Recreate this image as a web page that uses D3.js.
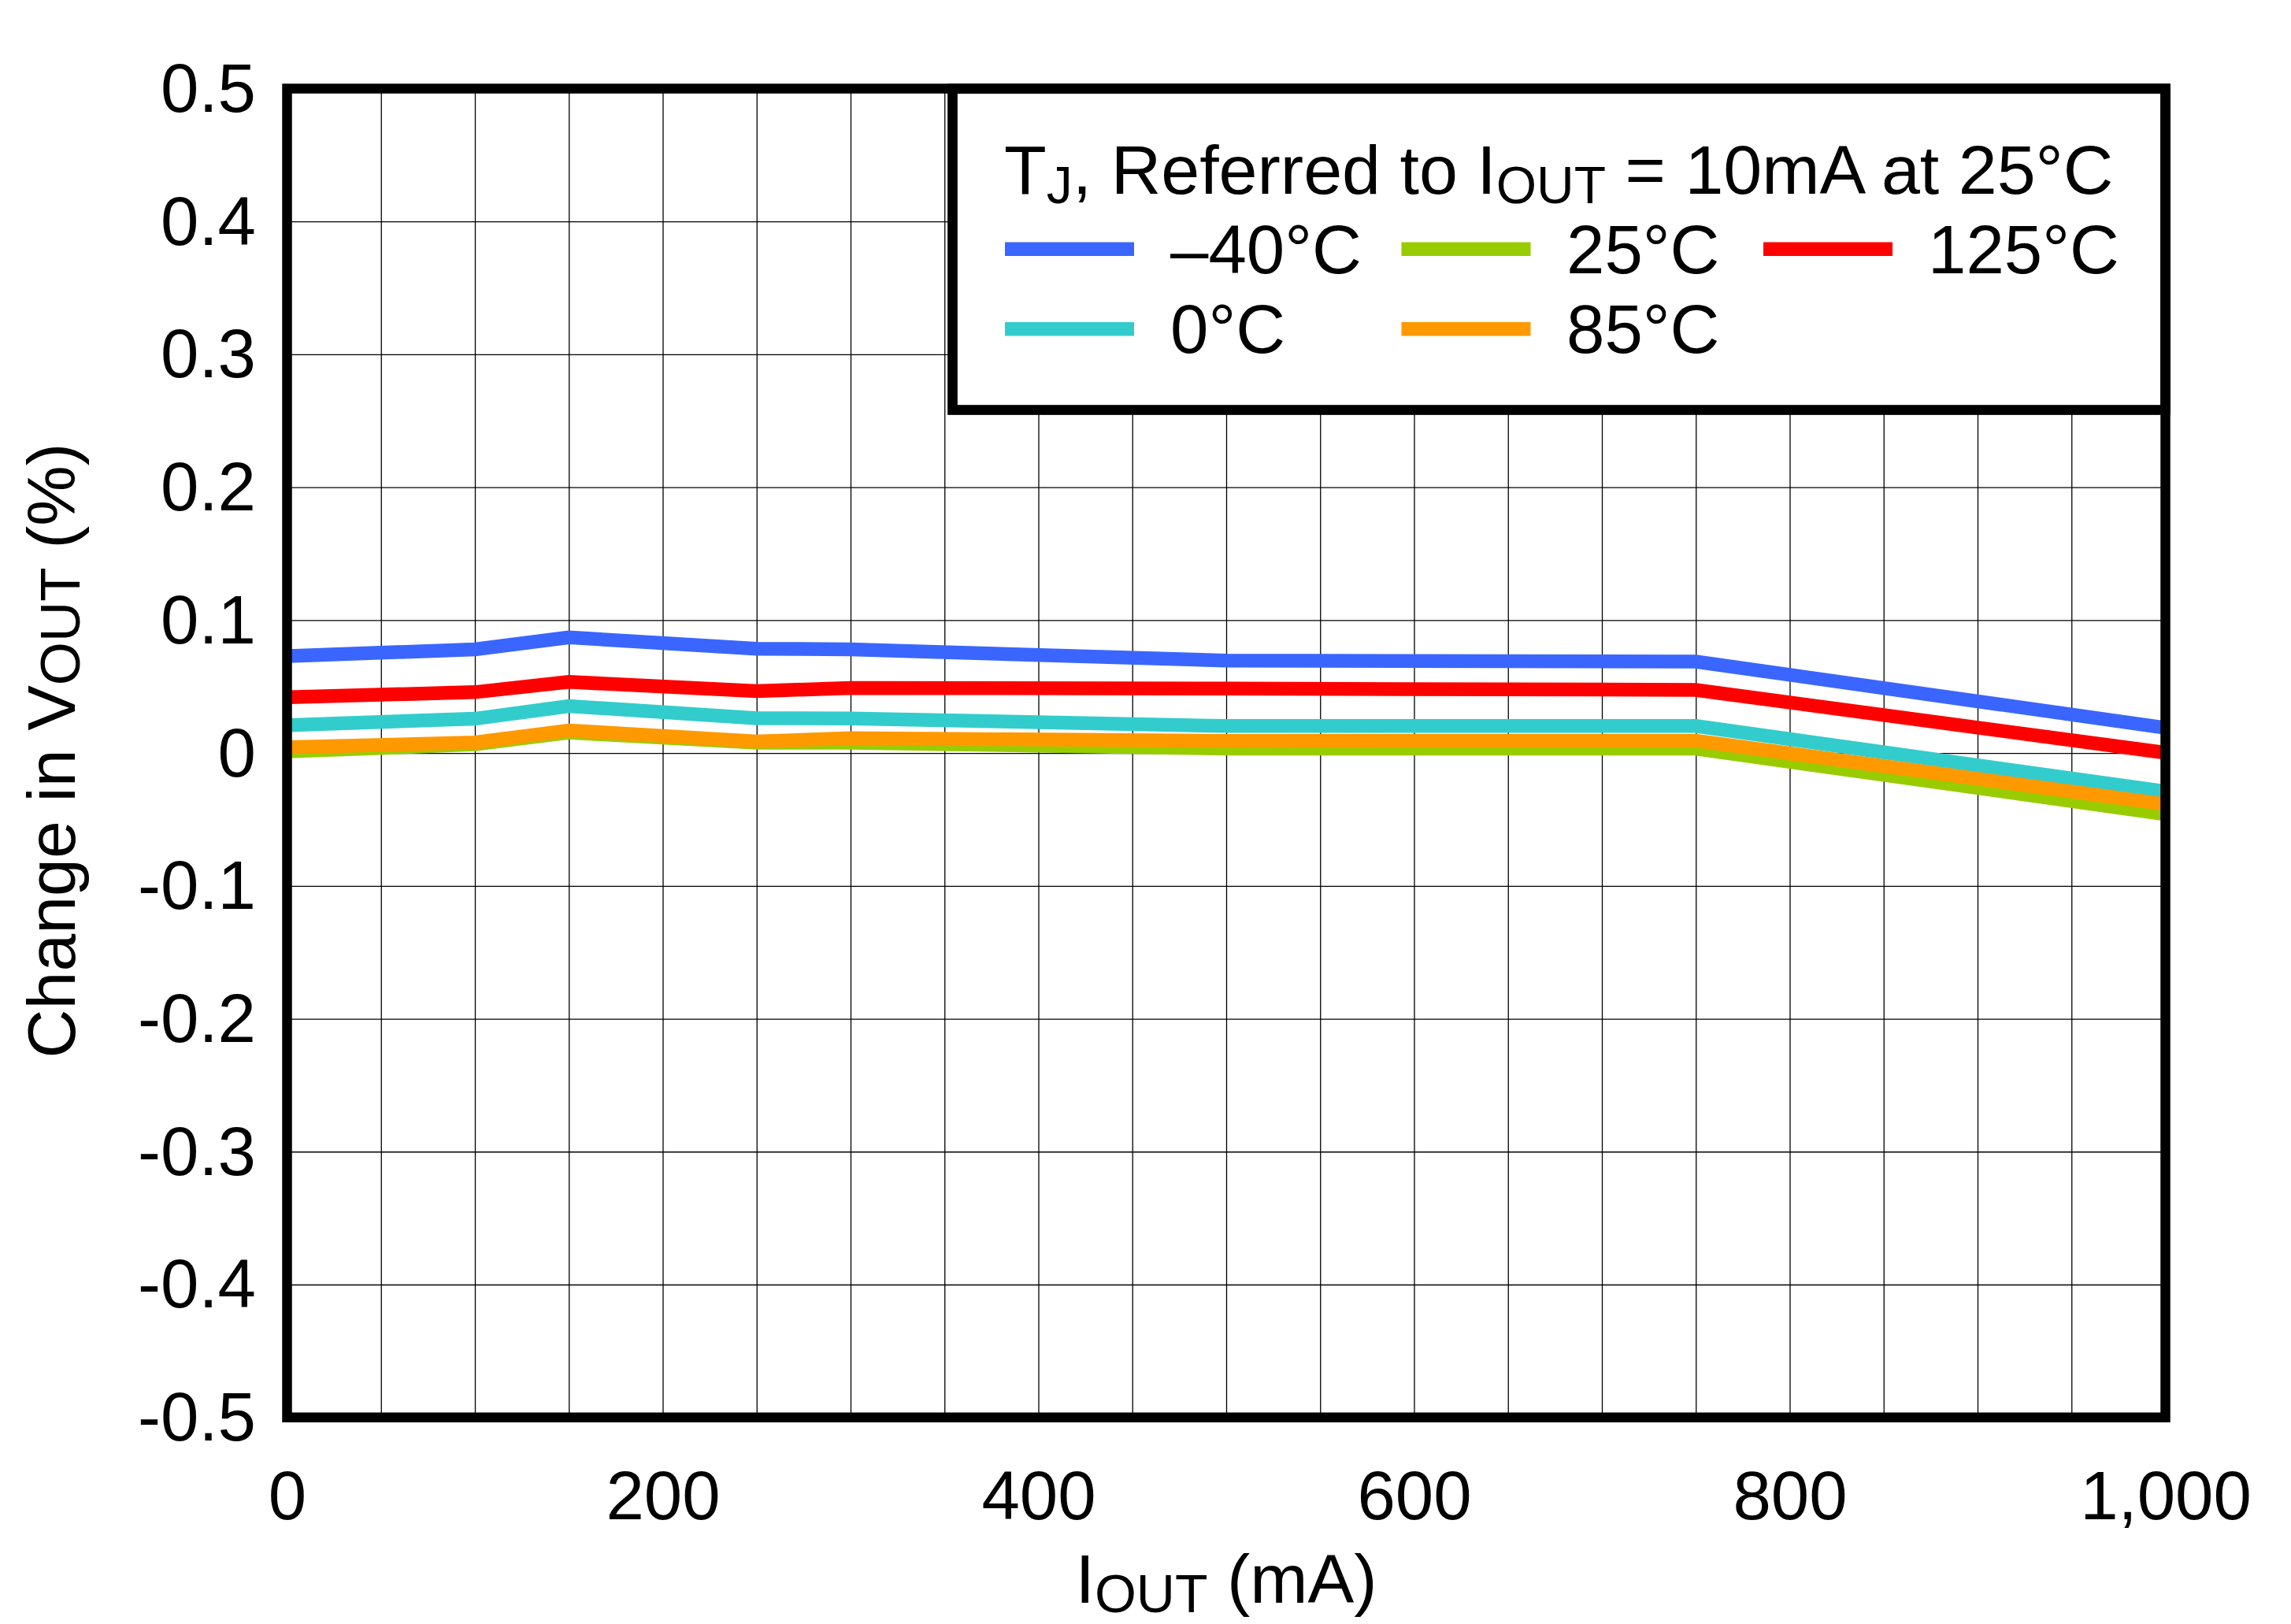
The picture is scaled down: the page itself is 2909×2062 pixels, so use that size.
<!DOCTYPE html>
<html>
<head>
<meta charset="utf-8">
<script src="https://cdn.jsdelivr.net/npm/d3@7"></script>
<style>
  html, body { margin: 0; padding: 0; background: #fff; }
  svg { display: block; }
  text { font-family: "Liberation Sans", Arial, sans-serif; fill: #000; }
</style>
</head>
<body>
<svg id="chart" width="2909" height="2062"></svg>
<script>
// ---- Data ----
const currents = [1, 100, 150, 250, 300, 500, 750, 1000]; // IOUT (mA)
const seriesNames = ["\u201340\u00B0C", "0\u00B0C", "25\u00B0C", "85\u00B0C", "125\u00B0C"];
const seriesColors = ["#3A66FF", "#33CCCC", "#99CC00", "#FF9900", "#FF0000"];
const vM40  = [0.073, 0.078, 0.087, 0.0785, 0.078, 0.0696, 0.0688, 0.019];
const v0    = [0.021, 0.0258, 0.0353, 0.0262, 0.026, 0.0203, 0.0203, -0.029];
const v25   = [0.0012, 0.0065, 0.0154, 0.0077, 0.0078, 0.0033, 0.0033, -0.046];
const v85   = [0.0043, 0.0079, 0.017, 0.0087, 0.0112, 0.0091, 0.0093, -0.0385];
const v125  = [0.042, 0.0458, 0.0535, 0.0466, 0.0489, 0.0485, 0.0475, 0.0002];
const seriesValues = [vM40, v0, v25, v85, v125];
const xTickLabels = [0, 200, 400, 600, 800, 1000];
const yTickLabels = [0.5, 0.4, 0.3, 0.2, 0.1, 0, -0.1, -0.2, -0.3, -0.4, -0.5];
const xGrid = d3.range(50, 1000, 50);
const yGrid = [0.4, 0.3, 0.2, 0.1, 0, -0.1, -0.2, -0.3, -0.4];

// ---- Layout ----
const L = 364.5, R = 2749.5, T = 112.5, B = 1799.7;
const svg = d3.select("#chart");
const x = d3.scaleLinear().domain([0, 1000]).range([L, R]);
const y = d3.scaleLinear().domain([-0.5, 0.5]).range([B, T]);
const FS = 87;

// Grid lines
const gx = svg.append("g").attr("transform", `translate(0,${B})`)
  .call(d3.axisBottom(x).tickValues(xGrid).tickSize(-(B - T)).tickFormat(""));
gx.select(".domain").remove();
gx.selectAll("line").attr("stroke", "#000").attr("stroke-width", 1.3);

const gy = svg.append("g").attr("transform", `translate(${L},0)`)
  .call(d3.axisLeft(y).tickValues(yGrid).tickSize(-(R - L)).tickFormat(""));
gy.select(".domain").remove();
gy.selectAll("line").attr("stroke", "#000").attr("stroke-width", 1.3);

// Tick labels via axes
const ax = svg.append("g").attr("transform", `translate(0,${B})`)
  .call(d3.axisBottom(x).tickValues(xTickLabels).tickSize(0).tickPadding(0).tickFormat(d3.format(",")));
ax.select(".domain").remove();
ax.selectAll("text").attr("font-size", FS).attr("font-family", "Liberation Sans, Arial, sans-serif")
  .attr("dy", null).attr("y", 1929 - B).attr("fill", "#000");

const ay = svg.append("g").attr("transform", `translate(${L},0)`)
  .call(d3.axisLeft(y).tickValues(yTickLabels).tickSize(0).tickPadding(0)
    .tickFormat(d => d === 0 ? "0" : d.toFixed(1)));
ay.select(".domain").remove();
ay.selectAll("text").attr("font-size", FS).attr("font-family", "Liberation Sans, Arial, sans-serif")
  .attr("x", 325 - L).attr("dy", null).attr("y", 29).attr("text-anchor", "end").attr("fill", "#000");

// Series lines
const line = d3.line().x((d, i) => x(currents[i])).y(d => y(d));
seriesValues.forEach((vals, k) => {
  svg.append("path").datum(vals).attr("d", line)
    .attr("fill", "none").attr("stroke", seriesColors[k])
    .attr("stroke-width", 17.5).attr("stroke-linejoin", "miter").attr("stroke-linecap", "butt");
});

// Legend
svg.append("rect").attr("x", 1209.5).attr("y", T).attr("width", R - 1209.5).attr("height", 520.5 - T)
  .attr("fill", "#fff").attr("stroke", "#000").attr("stroke-width", 12.7);

const title = svg.append("text").attr("x", 1275).attr("y", 246).attr("font-size", 88);
title.append("tspan").text("T");
title.append("tspan").attr("font-size", 66).attr("dy", 12).text("J");
title.append("tspan").attr("dy", -12).text(", Referred to I");
title.append("tspan").attr("font-size", 66).attr("dy", 12).text("OUT");
title.append("tspan").attr("dy", -12).text(" = 10mA at 25\u00B0C");

const legendPos = [
  { sx: 1276, tx: 1486, row: 0 },   // -40
  { sx: 1276, tx: 1486, row: 1 },   // 0
  { sx: 1779.5, tx: 1989, row: 0 }, // 25
  { sx: 1779.5, tx: 1989, row: 1 }, // 85
  { sx: 2239, tx: 2448, row: 0 }    // 125
];
const rowBase = [346.7, 448.3];
seriesNames.forEach((name, k) => {
  const p = legendPos[k];
  const by = rowBase[p.row];
  svg.append("line").attr("x1", p.sx).attr("x2", p.sx + 164)
    .attr("y1", by - 30.5).attr("y2", by - 30.5)
    .attr("stroke", seriesColors[k]).attr("stroke-width", 17.4);
  svg.append("text").attr("x", p.tx).attr("y", by).attr("font-size", 87).text(name);
});

// Plot frame
svg.append("rect").attr("x", L).attr("y", T).attr("width", R - L).attr("height", B - T)
  .attr("fill", "none").attr("stroke", "#000").attr("stroke-width", 12.5);

// Axis titles
const xt = svg.append("text").attr("x", (L + R) / 2).attr("y", 2035)
  .attr("text-anchor", "middle").attr("font-size", 88);
xt.append("tspan").text("I");
xt.append("tspan").attr("font-size", 68).attr("dy", 12).text("OUT");
xt.append("tspan").attr("dy", -12).text(" (mA)");

const yt = svg.append("text")
  .attr("transform", `translate(95,${(T + B) / 2 - 3}) rotate(-90)`)
  .attr("text-anchor", "middle").attr("font-size", 86);
yt.append("tspan").text("Change in V");
yt.append("tspan").attr("font-size", 71).attr("dy", 6).text("OUT");
yt.append("tspan").attr("dy", -6).text(" (%)");
</script>
</body>
</html>
